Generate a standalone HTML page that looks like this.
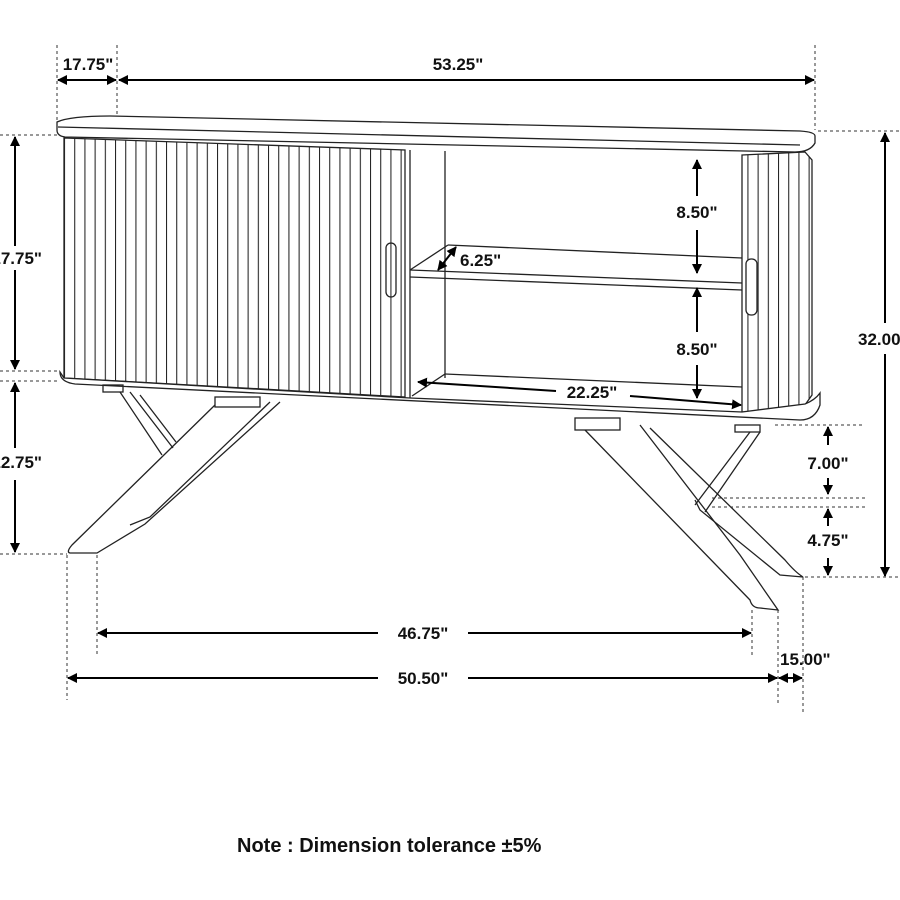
<!DOCTYPE html>
<html><head><meta charset="utf-8"><style>
html,body{margin:0;padding:0;background:#fff;}
svg{display:block;}
text{font-family:"Liberation Sans",Arial,sans-serif;font-weight:bold;fill:#111;}
</style></head><body>
<svg width="900" height="900" viewBox="0 0 900 900" xmlns="http://www.w3.org/2000/svg">
<defs>
<pattern id="fl" patternUnits="userSpaceOnUse" width="10.2" height="10" x="64">
<line x1="0.5" y1="0" x2="0.5" y2="10" stroke="#222" stroke-width="1.1"/>
</pattern>
<marker id="ah" markerWidth="10" markerHeight="10" refX="9" refY="5" orient="auto" markerUnits="userSpaceOnUse" viewBox="0 0 10 10">
<path d="M0,0 L10,5 L0,10 z" fill="#000"/></marker>
<marker id="at" markerWidth="10" markerHeight="10" refX="1" refY="5" orient="auto" markerUnits="userSpaceOnUse" viewBox="0 0 10 10">
<path d="M10,0 L0,5 L10,10 z" fill="#000"/></marker>
</defs>
<g fill="none" stroke="#222" stroke-width="1.3">
<path d="M57,122 Q70,116 110,116 L800,131 Q815,132 815,136 L815,143 Q810,152 795,152 L65,137 Q57,136 57,130 Z" fill="#fff"/>
<line x1="58" y1="127" x2="800" y2="145"/>
<polygon points="64,138 405,150 405,397 64,378" fill="url(#fl)"/>
<rect x="386" y="243" width="10" height="54" rx="5"/>
<line x1="410" y1="150" x2="410" y2="398"/>
<line x1="445" y1="151" x2="445" y2="378"/>
<line x1="448" y1="245" x2="742" y2="258"/>
<line x1="448" y1="245" x2="410" y2="270"/>
<line x1="410" y1="270" x2="742" y2="283"/>
<line x1="410" y1="277" x2="742" y2="290"/>
<line x1="445" y1="374" x2="742" y2="387"/>
<line x1="445" y1="374" x2="412" y2="396"/>
<polygon points="742,155 805,152 812,160 812,395 800,412 742,412" fill="url(#fl)"/>
<rect x="746" y="259" width="11" height="56" rx="5" fill="#fff"/>
<path d="M60,372 Q60,382 75,384 L800,420 Q815,420 820,405 L820,393 Q815,400 805,404 L742,412 L410,398 L64,378 Z" fill="#fff"/>
<rect x="103" y="385" width="20" height="7"/>
<rect x="215" y="397" width="45" height="10"/>
<path d="M215,405 L72,545 Q66,552 70,553 L97,553 L145,524 L280,402"/>
<path d="M270,402 L150,517 L130,525"/>
<path d="M120,392 L162,455 M130,392 L173,448 M140,395 L176,442"/>
<rect x="575" y="418" width="45" height="12"/>
<rect x="735" y="425" width="25" height="7"/>
<path d="M585,430 L750,600 Q752,608 760,608 L778,610 L740,555 L640,425"/>
<path d="M650,428 L785,560 Q795,572 803,577 L780,575 L700,510 L695,500"/>
<path d="M750,432 L695,505 M760,432 L705,512"/>
</g>
<g stroke="#333" stroke-width="1" stroke-dasharray="3,3" fill="none">
<line x1="57" y1="45" x2="57" y2="120"/>
<line x1="117" y1="45" x2="117" y2="115"/>
<line x1="815" y1="45" x2="815" y2="130"/>
<line x1="0" y1="135" x2="57" y2="135"/>
<line x1="0" y1="371" x2="60" y2="371"/>
<line x1="0" y1="381" x2="60" y2="381"/>
<line x1="0" y1="554" x2="67" y2="554"/>
<line x1="818" y1="131" x2="900" y2="131"/>
<line x1="805" y1="577" x2="900" y2="577"/>
<line x1="775" y1="425" x2="865" y2="425"/>
<line x1="712" y1="498" x2="865" y2="498"/>
<line x1="712" y1="507" x2="865" y2="507"/>
<line x1="67" y1="555" x2="67" y2="700"/>
<line x1="97" y1="555" x2="97" y2="657"/>
<line x1="752" y1="610" x2="752" y2="658"/>
<line x1="778" y1="610" x2="778" y2="705"/>
<line x1="803" y1="577" x2="803" y2="712"/>
</g>
<g stroke="#000" stroke-width="2" fill="none">
<line x1="58" y1="80" x2="116" y2="80" marker-start="url(#at)" marker-end="url(#ah)"/>
<line x1="119" y1="80" x2="814" y2="80" marker-start="url(#at)" marker-end="url(#ah)"/>
<line x1="15" y1="137" x2="15" y2="246" marker-start="url(#at)"/>
<line x1="15" y1="270" x2="15" y2="369" marker-end="url(#ah)"/>
<line x1="15" y1="383" x2="15" y2="448" marker-start="url(#at)"/>
<line x1="15" y1="480" x2="15" y2="552" marker-end="url(#ah)"/>
<line x1="885" y1="133" x2="885" y2="323" marker-start="url(#at)"/>
<line x1="885" y1="354" x2="885" y2="576" marker-end="url(#ah)"/>
<line x1="697" y1="160" x2="697" y2="196" marker-start="url(#at)"/>
<line x1="697" y1="230" x2="697" y2="273" marker-end="url(#ah)"/>
<line x1="697" y1="288" x2="697" y2="332" marker-start="url(#at)"/>
<line x1="697" y1="365" x2="697" y2="398" marker-end="url(#ah)"/>
<line x1="456" y1="247" x2="438" y2="270" marker-start="url(#at)" marker-end="url(#ah)"/>
<line x1="418" y1="382" x2="556" y2="391" marker-start="url(#at)"/>
<line x1="630" y1="396" x2="741" y2="405" marker-end="url(#ah)"/>
<line x1="828" y1="427" x2="828" y2="445" marker-start="url(#at)"/>
<line x1="828" y1="478" x2="828" y2="494" marker-end="url(#ah)"/>
<line x1="828" y1="509" x2="828" y2="526" marker-start="url(#at)"/>
<line x1="828" y1="558" x2="828" y2="575" marker-end="url(#ah)"/>
<line x1="98" y1="633" x2="378" y2="633" marker-start="url(#at)"/>
<line x1="468" y1="633" x2="751" y2="633" marker-end="url(#ah)"/>
<line x1="68" y1="678" x2="378" y2="678" marker-start="url(#at)"/>
<line x1="468" y1="678" x2="777" y2="678" marker-end="url(#ah)"/>
<line x1="779" y1="678" x2="802" y2="678" marker-start="url(#at)" marker-end="url(#ah)"/>
</g>
<g font-size="17" text-anchor="middle">
<text x="88" y="70">17.75"</text>
<text x="458" y="70">53.25"</text>
<text x="42" y="264" text-anchor="end">17.75"</text>
<text x="42" y="468" text-anchor="end">12.75"</text>
<text x="858" y="345" text-anchor="start">32.00"</text>
<text x="697" y="218">8.50"</text>
<text x="697" y="355">8.50"</text>
<text x="460" y="266" text-anchor="start">6.25"</text>
<text x="592" y="398">22.25"</text>
<text x="828" y="469">7.00"</text>
<text x="828" y="546">4.75"</text>
<text x="423" y="639">46.75"</text>
<text x="423" y="684">50.50"</text>
<text x="780" y="665" text-anchor="start">15.00"</text>
</g>
<text x="237" y="852" font-size="20">Note : Dimension tolerance ±5%</text>
</svg>
</body></html>
